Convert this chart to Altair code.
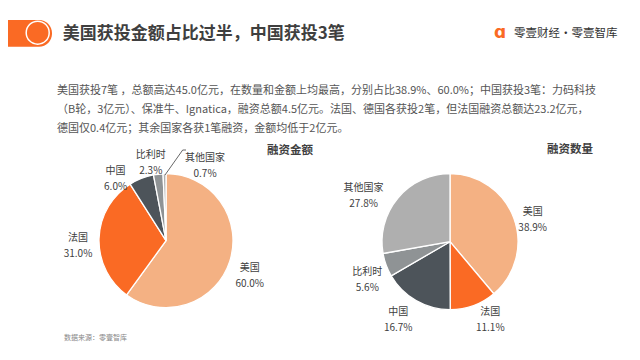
import altair as alt
import pandas as pd

FONT = "Noto Sans CJK SC"

# ---- data ----
names = ["美国", "法国", "中国", "比利时", "其他国家"]
amount_share = [60.0, 31.0, 6.0, 2.3, 0.7]      # 融资金额 (%)
count_share = [38.9, 11.1, 16.7, 5.6, 27.8]     # 融资数量 (%)
colors = ["#F4B183", "#FA6A24", "#4D545A", "#8F9395", "#AFAFAF"]

title_text = "美国获投金额占比过半，中国获投3笔"
logo_text = "零壹财经·零壹智库"
para_lines = [
    "美国获投7笔 ，总额高达45.0亿元，在数量和金额上均最高，分别占比38.9%、60.0%；中国获投3笔：力码科技",
    "（B轮，3亿元）、保准牛、Ignatica，融资总额4.5亿元。法国、德国各获投2笔，但法国融资总额达23.2亿元，",
    "德国仅0.4亿元；其余国家各获1笔融资，金额均低于2亿元。",
]
pie_titles = ["融资金额", "融资数量"]
source_text = "数据来源：零壹智库"

one = pd.DataFrame({"i": [0]})
color_scale = alt.Scale(domain=names, range=colors)


def pie(values, cx, cy, r, nudges):
    df = pd.DataFrame({"name": names, "v": values, "k": list(range(len(names)))})
    total = sum(values)
    base = alt.Chart(df).transform_window(
        cum="sum(v)", sort=[alt.SortField("k")], frame=[None, 0]
    ).transform_calculate(
        start="datum.cum - datum.v",
        mid="datum.cum - datum.v / 2",
        lab="datum.name + '|' + format(datum.v, '.1f') + '%'",
    )
    tscale = alt.Scale(domain=[0, total])
    arc = base.mark_arc(outerRadius=r, stroke="white", strokeWidth=1.3).encode(
        theta=alt.Theta("start:Q", scale=tscale, stack=False),
        theta2="cum:Q",
        color=alt.Color("name:N", scale=color_scale, legend=None),
        x=alt.value(cx),
        y=alt.value(cy),
    )
    layers = [arc]
    for n in names:
        dx, dy = nudges.get(n, (0, 0))
        lab = base.transform_filter(alt.datum.name == n).mark_text(
            radius=88, dx=dx, dy=dy, lineBreak="|", lineHeight=16,
            fontSize=10, font=FONT, color="#404040",
        ).encode(
            theta=alt.Theta("mid:Q", scale=tscale, stack=False),
            text="lab:N",
            x=alt.value(cx),
            y=alt.value(cy),
        )
        layers.append(lab)
    return alt.layer(*layers)


left = pie(amount_share, 158, 232.7, 67,
           {"中国": (-18, 12.6), "比利时": (-5, 2), "其他国家": (41, 5)})
right = pie(count_share, 442, 233.7, 68,
            {"法国": (10, -12), "中国": (-8, -6), "其他国家": (-19, 3)})


def txt(text, x, y, **kw):
    return alt.Chart(one).mark_text(font=FONT, **kw).encode(
        x=alt.value(x), y=alt.value(y), text=alt.value(text)
    )


header_bar = alt.Chart(one).mark_rect(color="#FA6A24", cornerRadius=13).encode(
    x=alt.value(-20), x2=alt.value(44), y=alt.value(12), y2=alt.value(38.7)
)
header_ring = alt.Chart(one).mark_point(
    shape="circle", filled=False, size=529, stroke="white", strokeWidth=1.5, opacity=1
).encode(x=alt.value(29.7), y=alt.value(24.7))

title = txt(title_text, 54.7, 25.7, fontSize=17, fontWeight="bold",
            color="#3F3F3F", align="left", baseline="middle")
logo_icon = alt.Chart(one).mark_text(
    font="DejaVu Sans", fontSize=17, fontWeight="bold", color="#FA6A24",
    align="center", baseline="middle"
).encode(x=alt.value(492), y=alt.value(25), text=alt.value("ɑ"))
logo = txt(logo_text, 506, 26, fontSize=11.5,
           color="#333333", align="left", baseline="middle")

para = alt.Chart(one).mark_text(
    font=FONT, fontSize=11, color="#555555", align="left", baseline="middle",
    lineHeight=18.6
).encode(x=alt.value(49), y=alt.value(83.4), text=alt.value(para_lines))

t1 = txt(pie_titles[0], 282, 143, fontSize=11.5, fontWeight="bold",
         color="#404040", align="center", baseline="middle")
t2 = txt(pie_titles[1], 562, 142, fontSize=11.5, fontWeight="bold",
         color="#404040", align="center", baseline="middle")

leader1 = alt.Chart(one).mark_rule(color="#404040", strokeWidth=0.8).encode(
    x=alt.value(157), y=alt.value(167), x2=alt.value(174.7), y2=alt.value(142)
)
leader2 = alt.Chart(one).mark_rule(color="#404040", strokeWidth=0.8).encode(
    x=alt.value(174.7), y=alt.value(142), x2=alt.value(178), y2=alt.value(142)
)

source = txt(source_text, 56, 330, fontSize=7, color="#888888",
             align="left", baseline="middle")

chart = alt.layer(
    header_bar, header_ring, title, logo_icon, logo, para,
    left, right, leader1, leader2, t1, t2, source
).resolve_scale(theta="independent").properties(
    width=624, height=344, padding=0, autosize="none"
).configure_view(stroke=None)

chart.save("out.html", embed_options={"renderer": "svg", "actions": False})
